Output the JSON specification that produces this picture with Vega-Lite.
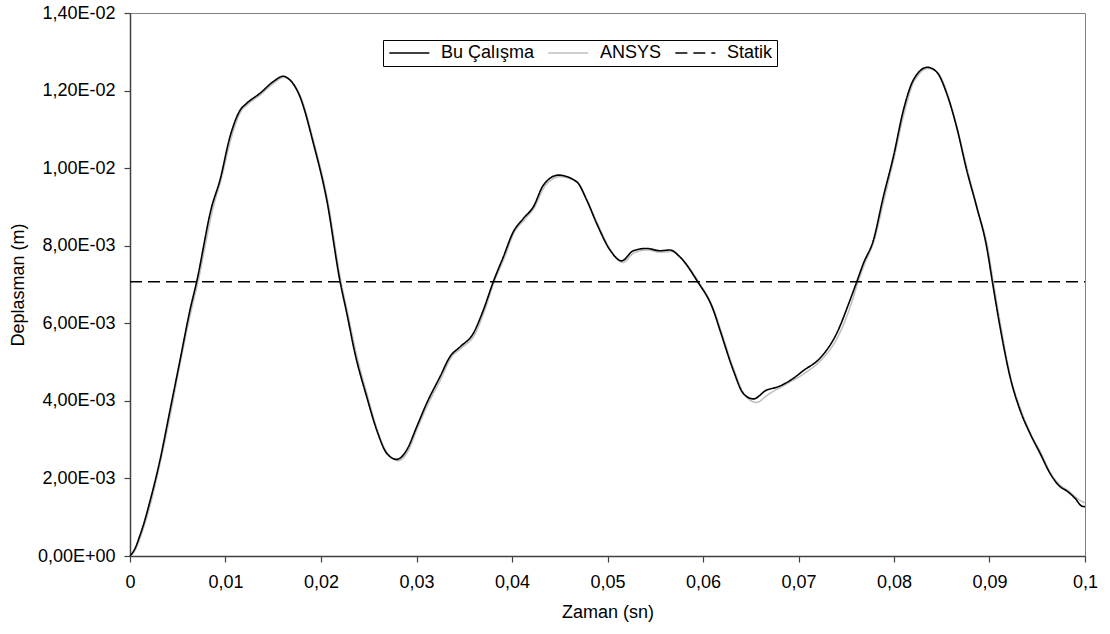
{
  "$schema": "https://vega.github.io/schema/vega-lite/v6.json",
  "width": 955,
  "height": 543,
  "autosize": {"type": "none"},
  "padding": {"left": 130, "top": 13, "right": 25, "bottom": 78},
  "background": "white",
  "config": {
    "font": "Liberation Sans",
    "view": {"stroke": "#808080", "strokeWidth": 1},
    "axis": {"grid": false, "domainColor": "#404040", "tickColor": "#404040", "labelColor": "black", "titleColor": "black", "labelFontSize": 18, "titleFontSize": 18, "titleFontWeight": "normal", "tickSize": 6, "domainWidth": 1.5, "tickWidth": 1.2}
  },
  "data": {"values": [
    {"seri": "ANSYS", "t": 0, "v": 0},
    {"seri": "ANSYS", "t": 0.0006, "v": 0.00018},
    {"seri": "ANSYS", "t": 0.0011, "v": 0.0005},
    {"seri": "ANSYS", "t": 0.0016, "v": 0.00087},
    {"seri": "ANSYS", "t": 0.0022, "v": 0.0014},
    {"seri": "ANSYS", "t": 0.0032, "v": 0.00245},
    {"seri": "ANSYS", "t": 0.0043, "v": 0.00374},
    {"seri": "ANSYS", "t": 0.0053, "v": 0.00503},
    {"seri": "ANSYS", "t": 0.0064, "v": 0.00632},
    {"seri": "ANSYS", "t": 0.0071, "v": 0.00705},
    {"seri": "ANSYS", "t": 0.0087, "v": 0.00898},
    {"seri": "ANSYS", "t": 0.0095, "v": 0.00967},
    {"seri": "ANSYS", "t": 0.0106, "v": 0.01078},
    {"seri": "ANSYS", "t": 0.0116, "v": 0.01146},
    {"seri": "ANSYS", "t": 0.0123, "v": 0.01164},
    {"seri": "ANSYS", "t": 0.0137, "v": 0.0119},
    {"seri": "ANSYS", "t": 0.0151, "v": 0.0122},
    {"seri": "ANSYS", "t": 0.0161, "v": 0.01234},
    {"seri": "ANSYS", "t": 0.0167, "v": 0.01228},
    {"seri": "ANSYS", "t": 0.0179, "v": 0.01182},
    {"seri": "ANSYS", "t": 0.0193, "v": 0.01062},
    {"seri": "ANSYS", "t": 0.0207, "v": 0.00916},
    {"seri": "ANSYS", "t": 0.0221, "v": 0.00706},
    {"seri": "ANSYS", "t": 0.0228, "v": 0.00625},
    {"seri": "ANSYS", "t": 0.0237, "v": 0.00521},
    {"seri": "ANSYS", "t": 0.0249, "v": 0.0041},
    {"seri": "ANSYS", "t": 0.0259, "v": 0.00324},
    {"seri": "ANSYS", "t": 0.027, "v": 0.00263},
    {"seri": "ANSYS", "t": 0.0281, "v": 0.00246},
    {"seri": "ANSYS", "t": 0.0291, "v": 0.0027},
    {"seri": "ANSYS", "t": 0.0301, "v": 0.0033},
    {"seri": "ANSYS", "t": 0.0312, "v": 0.00391},
    {"seri": "ANSYS", "t": 0.0326, "v": 0.00459},
    {"seri": "ANSYS", "t": 0.0336, "v": 0.00511},
    {"seri": "ANSYS", "t": 0.0347, "v": 0.00536},
    {"seri": "ANSYS", "t": 0.0361, "v": 0.00571},
    {"seri": "ANSYS", "t": 0.0371, "v": 0.00631},
    {"seri": "ANSYS", "t": 0.0381, "v": 0.00705},
    {"seri": "ANSYS", "t": 0.0392, "v": 0.00769},
    {"seri": "ANSYS", "t": 0.0402, "v": 0.00833},
    {"seri": "ANSYS", "t": 0.0413, "v": 0.00867},
    {"seri": "ANSYS", "t": 0.0423, "v": 0.00897},
    {"seri": "ANSYS", "t": 0.0434, "v": 0.00952},
    {"seri": "ANSYS", "t": 0.045, "v": 0.00978},
    {"seri": "ANSYS", "t": 0.0469, "v": 0.00962},
    {"seri": "ANSYS", "t": 0.0479, "v": 0.00915},
    {"seri": "ANSYS", "t": 0.049, "v": 0.00854},
    {"seri": "ANSYS", "t": 0.0504, "v": 0.00786},
    {"seri": "ANSYS", "t": 0.0516, "v": 0.00757},
    {"seri": "ANSYS", "t": 0.0528, "v": 0.00782},
    {"seri": "ANSYS", "t": 0.0542, "v": 0.00789},
    {"seri": "ANSYS", "t": 0.0556, "v": 0.00783},
    {"seri": "ANSYS", "t": 0.0567, "v": 0.00785},
    {"seri": "ANSYS", "t": 0.0577, "v": 0.00768},
    {"seri": "ANSYS", "t": 0.0595, "v": 0.00708},
    {"seri": "ANSYS", "t": 0.0612, "v": 0.00631},
    {"seri": "ANSYS", "t": 0.0619, "v": 0.00579},
    {"seri": "ANSYS", "t": 0.0633, "v": 0.00476},
    {"seri": "ANSYS", "t": 0.0644, "v": 0.00414},
    {"seri": "ANSYS", "t": 0.0656, "v": 0.00396},
    {"seri": "ANSYS", "t": 0.0668, "v": 0.00416},
    {"seri": "ANSYS", "t": 0.069, "v": 0.00447},
    {"seri": "ANSYS", "t": 0.0707, "v": 0.00472},
    {"seri": "ANSYS", "t": 0.0724, "v": 0.00506},
    {"seri": "ANSYS", "t": 0.0742, "v": 0.00569},
    {"seri": "ANSYS", "t": 0.0756, "v": 0.00656},
    {"seri": "ANSYS", "t": 0.0762, "v": 0.00704},
    {"seri": "ANSYS", "t": 0.0769, "v": 0.00752},
    {"seri": "ANSYS", "t": 0.0779, "v": 0.00812},
    {"seri": "ANSYS", "t": 0.079, "v": 0.00923},
    {"seri": "ANSYS", "t": 0.08, "v": 0.01026},
    {"seri": "ANSYS", "t": 0.0811, "v": 0.01146},
    {"seri": "ANSYS", "t": 0.0821, "v": 0.01224},
    {"seri": "ANSYS", "t": 0.0836, "v": 0.01257},
    {"seri": "ANSYS", "t": 0.0846, "v": 0.01245},
    {"seri": "ANSYS", "t": 0.0856, "v": 0.01191},
    {"seri": "ANSYS", "t": 0.0866, "v": 0.01104},
    {"seri": "ANSYS", "t": 0.0877, "v": 0.00994},
    {"seri": "ANSYS", "t": 0.0887, "v": 0.00898},
    {"seri": "ANSYS", "t": 0.0898, "v": 0.00796},
    {"seri": "ANSYS", "t": 0.0904, "v": 0.00706},
    {"seri": "ANSYS", "t": 0.0912, "v": 0.0059},
    {"seri": "ANSYS", "t": 0.0922, "v": 0.00462},
    {"seri": "ANSYS", "t": 0.0933, "v": 0.00376},
    {"seri": "ANSYS", "t": 0.0943, "v": 0.00316},
    {"seri": "ANSYS", "t": 0.0954, "v": 0.00265},
    {"seri": "ANSYS", "t": 0.0964, "v": 0.00214},
    {"seri": "ANSYS", "t": 0.0975, "v": 0.0018},
    {"seri": "ANSYS", "t": 0.0982, "v": 0.00169},
    {"seri": "ANSYS", "t": 0.0989, "v": 0.00154},
    {"seri": "ANSYS", "t": 0.0995, "v": 0.00143},
    {"seri": "ANSYS", "t": 0.1, "v": 0.00137},

    {"seri": "Bu Çalışma", "t": 0, "v": 0},
    {"seri": "Bu Çalışma", "t": 0.0005, "v": 0.00018},
    {"seri": "Bu Çalışma", "t": 0.001, "v": 0.0005},
    {"seri": "Bu Çalışma", "t": 0.0015, "v": 0.00088},
    {"seri": "Bu Çalışma", "t": 0.0021, "v": 0.00142},
    {"seri": "Bu Çalışma", "t": 0.00314, "v": 0.00247},
    {"seri": "Bu Çalışma", "t": 0.00419, "v": 0.00376},
    {"seri": "Bu Çalışma", "t": 0.00524, "v": 0.00505},
    {"seri": "Bu Çalışma", "t": 0.00628, "v": 0.00634},
    {"seri": "Bu Çalışma", "t": 0.00698, "v": 0.00707},
    {"seri": "Bu Çalışma", "t": 0.00855, "v": 0.009},
    {"seri": "Bu Çalışma", "t": 0.00942, "v": 0.00969},
    {"seri": "Bu Çalışma", "t": 0.01047, "v": 0.01081},
    {"seri": "Bu Çalışma", "t": 0.01152, "v": 0.01149},
    {"seri": "Bu Çalışma", "t": 0.01222, "v": 0.01167},
    {"seri": "Bu Çalışma", "t": 0.01361, "v": 0.01193},
    {"seri": "Bu Çalışma", "t": 0.015, "v": 0.01223},
    {"seri": "Bu Çalışma", "t": 0.01605, "v": 0.01237},
    {"seri": "Bu Çalışma", "t": 0.01658, "v": 0.01231},
    {"seri": "Bu Çalışma", "t": 0.0178, "v": 0.01184},
    {"seri": "Bu Çalışma", "t": 0.0192, "v": 0.01064},
    {"seri": "Bu Çalışma", "t": 0.0206, "v": 0.00918},
    {"seri": "Bu Çalışma", "t": 0.022, "v": 0.00707},
    {"seri": "Bu Çalışma", "t": 0.0227, "v": 0.00626},
    {"seri": "Bu Çalışma", "t": 0.02356, "v": 0.00522},
    {"seri": "Bu Çalışma", "t": 0.02478, "v": 0.00411},
    {"seri": "Bu Çalışma", "t": 0.02583, "v": 0.00325},
    {"seri": "Bu Çalışma", "t": 0.02688, "v": 0.00265},
    {"seri": "Bu Çalışma", "t": 0.02793, "v": 0.00249},
    {"seri": "Bu Çalışma", "t": 0.02897, "v": 0.00273},
    {"seri": "Bu Çalışma", "t": 0.03002, "v": 0.00333},
    {"seri": "Bu Çalışma", "t": 0.03107, "v": 0.00394},
    {"seri": "Bu Çalışma", "t": 0.03246, "v": 0.00462},
    {"seri": "Bu Çalışma", "t": 0.03351, "v": 0.00514},
    {"seri": "Bu Çalışma", "t": 0.03455, "v": 0.00539},
    {"seri": "Bu Çalışma", "t": 0.03595, "v": 0.00574},
    {"seri": "Bu Çalışma", "t": 0.037, "v": 0.00634},
    {"seri": "Bu Çalışma", "t": 0.03804, "v": 0.00707},
    {"seri": "Bu Çalışma", "t": 0.03909, "v": 0.00771},
    {"seri": "Bu Çalışma", "t": 0.04014, "v": 0.00836},
    {"seri": "Bu Çalışma", "t": 0.04118, "v": 0.0087},
    {"seri": "Bu Çalışma", "t": 0.04223, "v": 0.009},
    {"seri": "Bu Çalışma", "t": 0.04328, "v": 0.00956},
    {"seri": "Bu Çalışma", "t": 0.04485, "v": 0.00982},
    {"seri": "Bu Çalışma", "t": 0.04677, "v": 0.00965},
    {"seri": "Bu Çalışma", "t": 0.04782, "v": 0.00918},
    {"seri": "Bu Çalışma", "t": 0.04887, "v": 0.00857},
    {"seri": "Bu Çalışma", "t": 0.05026, "v": 0.00789},
    {"seri": "Bu Çalışma", "t": 0.05148, "v": 0.00761},
    {"seri": "Bu Çalışma", "t": 0.0527, "v": 0.00787},
    {"seri": "Bu Çalışma", "t": 0.0541, "v": 0.00793},
    {"seri": "Bu Çalışma", "t": 0.0555, "v": 0.00787},
    {"seri": "Bu Çalışma", "t": 0.05654, "v": 0.00789},
    {"seri": "Bu Çalışma", "t": 0.05759, "v": 0.00771},
    {"seri": "Bu Çalışma", "t": 0.05934, "v": 0.00711},
    {"seri": "Bu Çalışma", "t": 0.06108, "v": 0.00634},
    {"seri": "Bu Çalışma", "t": 0.06178, "v": 0.00582},
    {"seri": "Bu Çalışma", "t": 0.06317, "v": 0.00479},
    {"seri": "Bu Çalışma", "t": 0.06422, "v": 0.00419},
    {"seri": "Bu Çalışma", "t": 0.06527, "v": 0.00405},
    {"seri": "Bu Çalışma", "t": 0.06667, "v": 0.00428},
    {"seri": "Bu Çalışma", "t": 0.06771, "v": 0.00435},
    {"seri": "Bu Çalışma", "t": 0.06946, "v": 0.00458},
    {"seri": "Bu Çalışma", "t": 0.07051, "v": 0.00478},
    {"seri": "Bu Çalışma", "t": 0.07225, "v": 0.0051},
    {"seri": "Bu Çalışma", "t": 0.074, "v": 0.00574},
    {"seri": "Bu Çalışma", "t": 0.0754, "v": 0.0066},
    {"seri": "Bu Çalışma", "t": 0.0761, "v": 0.00707},
    {"seri": "Bu Çalışma", "t": 0.07679, "v": 0.00754},
    {"seri": "Bu Çalışma", "t": 0.07784, "v": 0.00814},
    {"seri": "Bu Çalışma", "t": 0.07888, "v": 0.00926},
    {"seri": "Bu Çalışma", "t": 0.07993, "v": 0.01029},
    {"seri": "Bu Çalışma", "t": 0.08098, "v": 0.01149},
    {"seri": "Bu Çalışma", "t": 0.08202, "v": 0.01227},
    {"seri": "Bu Çalışma", "t": 0.08349, "v": 0.0126},
    {"seri": "Bu Çalışma", "t": 0.08447, "v": 0.01248},
    {"seri": "Bu Çalışma", "t": 0.08551, "v": 0.01193},
    {"seri": "Bu Çalışma", "t": 0.08656, "v": 0.01106},
    {"seri": "Bu Çalışma", "t": 0.08761, "v": 0.00995},
    {"seri": "Bu Çalışma", "t": 0.08866, "v": 0.009},
    {"seri": "Bu Çalışma", "t": 0.0897, "v": 0.00797},
    {"seri": "Bu Çalışma", "t": 0.0903, "v": 0.00707},
    {"seri": "Bu Çalışma", "t": 0.0911, "v": 0.00591},
    {"seri": "Bu Çalışma", "t": 0.09215, "v": 0.00462},
    {"seri": "Bu Çalışma", "t": 0.0932, "v": 0.00376},
    {"seri": "Bu Çalışma", "t": 0.09424, "v": 0.00316},
    {"seri": "Bu Çalışma", "t": 0.09529, "v": 0.00265},
    {"seri": "Bu Çalışma", "t": 0.09634, "v": 0.00213},
    {"seri": "Bu Çalışma", "t": 0.09738, "v": 0.00179},
    {"seri": "Bu Çalışma", "t": 0.09808, "v": 0.00168},
    {"seri": "Bu Çalışma", "t": 0.09895, "v": 0.00149},
    {"seri": "Bu Çalışma", "t": 0.09965, "v": 0.00129},
    {"seri": "Bu Çalışma", "t": 0.1, "v": 0.00127},

    {"seri": "Statik", "t": 0, "v": 0.00707},
    {"seri": "Statik", "t": 0.1, "v": 0.00707}
  ]},
  "mark": {"type": "line", "interpolate": "monotone"},
  "encoding": {
    "x": {
      "field": "t", "type": "quantitative",
      "scale": {"domain": [0, 0.1], "nice": false, "zero": false},
      "axis": {
        "title": "Zaman (sn)",
        "values": [0, 0.01, 0.02, 0.03, 0.04, 0.05, 0.06, 0.07, 0.08, 0.09, 0.1],
        "labelExpr": "replace(format(datum.value, '.2~f'), '.', ',')",
        "labelPadding": 11,
        "labelFlush": false,
        "titleBaseline": "middle",
        "titleY": 56
      }
    },
    "y": {
      "field": "v", "type": "quantitative",
      "scale": {"domain": [0, 0.014], "nice": false},
      "axis": {
        "title": "Deplasman (m)",
        "values": [0, 0.002, 0.004, 0.006, 0.008, 0.01, 0.012, 0.014],
        "labelExpr": "datum.value == 0 ? '0,00E+00' : (datum.value >= 0.0099 ? replace(format(datum.value * 100, '.2f'), '.', ',') + 'E-02' : replace(format(datum.value * 1000, '.2f'), '.', ',') + 'E-03')",
        "labelPadding": 9,
        "labelFlush": false,
        "titleX": -112,
        "titleY": 271.5,
        "titleAngle": -90,
        "titleBaseline": "middle",
        "titleAlign": "center"
      }
    },
    "color": {
      "field": "seri", "type": "nominal",
      "scale": {"domain": ["Bu Çalışma", "ANSYS", "Statik"], "range": ["#000000", "#c0c0c0", "#000000"]},
      "legend": {
        "title": null,
        "orient": "none",
        "legendX": 253,
        "legendY": 27,
        "direction": "horizontal",
        "strokeColor": "#000000",
        "fillColor": "#ffffff",
        "padding": 4,
        "symbolType": "M-1,0H5",
        "symbolSize": 178,
        "symbolStrokeWidth": 1.6,
        "labelFontSize": 18,
        "labelFont": "Liberation Sans",
        "labelColor": "#000000",
        "labelOffset": 36,
        "columnPadding": 10
      }
    },
    "strokeDash": {
      "field": "seri", "type": "nominal",
      "scale": {"domain": ["Bu Çalışma", "ANSYS", "Statik"], "range": [[1, 0], [1, 0], [12, 6]]}
    },
    "strokeWidth": {
      "field": "seri", "type": "nominal",
      "scale": {"domain": ["Bu Çalışma", "ANSYS", "Statik"], "range": [1.6, 1.6, 2.2]}
    }
  }
}
